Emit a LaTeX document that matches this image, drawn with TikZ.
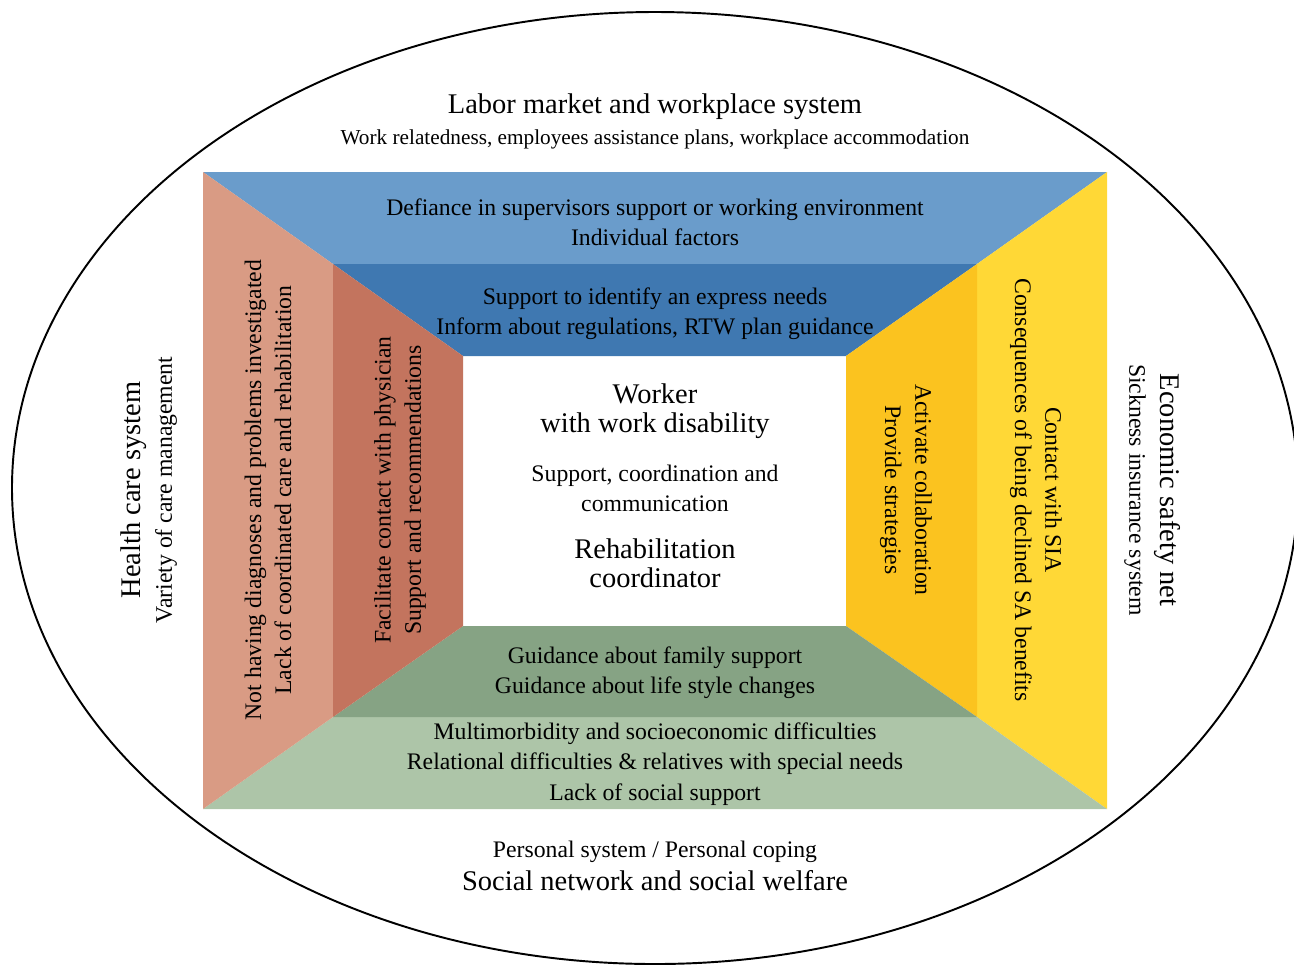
\documentclass[tikz,border=0pt]{standalone}
\usepackage{fontspec}
\setmainfont{Liberation Serif}
\usetikzlibrary{positioning}

\definecolor{bluelight}{HTML}{6A9CCB}
\definecolor{bluedark}{HTML}{3F78B1}
\definecolor{salmonlight}{HTML}{D99B84}
\definecolor{salmondark}{HTML}{C3745E}
\definecolor{yellowlight}{HTML}{FFD836}
\definecolor{yellowdark}{HTML}{FBC31F}
\definecolor{greenlight}{HTML}{ADC5A8}
\definecolor{greendark}{HTML}{86A384}

\tikzset{
  head/.style={font=\fontsize{16.2}{16.5}\selectfont, align=center, inner sep=0pt},
  body/.style={font=\fontsize{13.5}{17.2}\selectfont, align=center, inner sep=0pt},
  small/.style={font=\fontsize{12.1}{14}\selectfont, align=center, inner sep=0pt}
}

\begin{document}
\begin{tikzpicture}[x=0.02cm,y=-0.02cm]
    \useasboundingbox (0,0) rectangle (1294,965);
    % corners of the three frames
    \coordinate (A) at (203,172); \coordinate (B) at (1107,172);
    \coordinate (C) at (1107,809); \coordinate (D) at (203,809);
    \coordinate (a) at (333,264); \coordinate (b) at (977,264);
    \coordinate (c) at (977,717); \coordinate (d) at (333,717);
    \coordinate (p) at (463,356); \coordinate (q) at (846,356);
    \coordinate (r) at (846,626); \coordinate (s) at (463,626);
    \begin{scope}
      \clip (0,0) rectangle (1294,965);
      \draw[line width=1.1pt] (655,488) ellipse [x radius=643, y radius=476];
    \end{scope}
    % outer frame
    \fill[bluelight] (A) -- (B) -- (b) -- (a) -- cycle;
    \fill[yellowlight] (B) -- (C) -- (c) -- (b) -- cycle;
    \fill[greenlight] (C) -- (D) -- (d) -- (c) -- cycle;
    \fill[salmonlight] (D) -- (A) -- (a) -- (d) -- cycle;
    % middle frame
    \fill[bluedark] (a) -- (b) -- (q) -- (p) -- cycle;
    \fill[yellowdark] (b) -- (c) -- (r) -- (q) -- cycle;
    \fill[greendark] (c) -- (d) -- (s) -- (r) -- cycle;
    \fill[salmondark] (d) -- (a) -- (p) -- (s) -- cycle;
    % top
    \node[head] (labor) at (655,107) {Labor market and workplace system};
    \node[small] (laborsub) at (655,139) {Work relatedness, employees assistance plans, workplace accommodation};
    \node[body] (topout) at (655,222) {Defiance in supervisors support or working environment\\Individual factors};
    \node[body] (topmid) at (655,314) {Support to identify an express needs\\Inform about regulations, RTW plan guidance};
    % centre
    \node[head] (worker) at (655,411) {Worker\\with work disability};
    \node[body] (support) at (655,488) {Support, coordination and\\communication};
    \node[head] (coord) at (655,563) {Rehabilitation\\coordinator};
    % bottom
    \node[body] (botmid) at (655,673) {Guidance about family support\\Guidance about life style changes};
    \node[body] (botout) at (655,764) {Multimorbidity and socioeconomic difficulties\\Relational difficulties \& relatives with special needs\\Lack of social support};
    \node[body] (personal) at (655,852) {Personal system / Personal coping};
    \node[head] (social) at (655,881) {Social network and social welfare};
    % left
    \node[head,rotate=90] (health) at (134,490) {Health care system};
    \node[body,rotate=90] (healthsub) at (166,490) {Variety of care management};
    \node[body,rotate=90] (leftout) at (268,490) {Not having diagnoses and problems investigated\\Lack of coordinated care and rehabilitation};
    \node[body,rotate=90] (leftmid) at (400,490) {Facilitate contact with physician\\Support and recommendations};
    % right
    \node[body,rotate=-90] (rightmid) at (906,490) {Activate collaboration\\Provide strategies};
    \node[body,rotate=-90] (rightout) at (1036,490) {Contact with SIA\\Consequences of being declined SA benefits};
    \node[head,rotate=-90] (econ) at (1167,490) {Economic safety net};
    \node[body,rotate=-90] (econsub) at (1135,490) {Sickness insurance system};
\end{tikzpicture}
\end{document}
